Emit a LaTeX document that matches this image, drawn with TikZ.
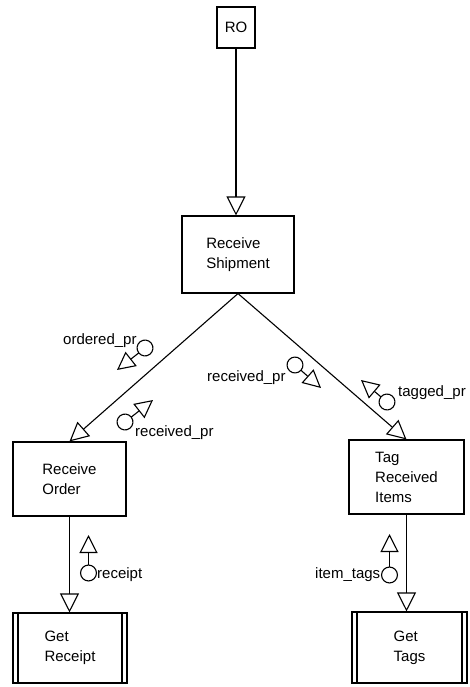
\documentclass[tikz,border=0pt]{standalone}
\usepackage{fontspec}
\setmainfont{Liberation Sans}
\usetikzlibrary{arrows.meta,calc}
\begin{document}
\begin{tikzpicture}[x=1pt,y=-1pt,
  every node/.style={font=\fontsize{15}{20}\selectfont},
  procbox/.style={draw, line width=1.1pt, align=left, inner sep=0pt},
  dbox/.style={procbox, path picture={
      \draw[line width=1.1pt] ([xshift=5pt]path picture bounding box.north west) -- ([xshift=5pt]path picture bounding box.south west);
      \draw[line width=1.1pt] ([xshift=-5pt]path picture bounding box.north east) -- ([xshift=-5pt]path picture bounding box.south east);}},
  flow/.style={line width=1.1pt, -{Triangle[open,length=19pt,width=19pt]}},
  couple/.style={line width=1.1pt, {Circle[open,length=17pt]}-{Triangle[open,length=18pt,width=18pt]}},
  lbl/.style={inner sep=0pt}]
\useasboundingbox (0,0) rectangle (470,687);

% boxes
\node[procbox, minimum width=38pt, minimum height=41pt] (ro) at (236,27.5) {RO};
\node[procbox, minimum width=112pt, minimum height=77pt] (ship) at (238,254.5) {Receive\\Shipment};
\node[procbox, minimum width=113pt, minimum height=74pt] (order) at (69.5,479) {Receive\\Order};
\node[procbox, minimum width=115pt, minimum height=74pt] (tag) at (406.5,477) {Tag\\Received\\Items};
\node[dbox, minimum width=114pt, minimum height=70pt] (getr) at (70,648) {Get\\Receipt};
\node[dbox, minimum width=115pt, minimum height=71pt] (gett) at (409.5,647.5) {Get\\Tags};

% main connectors
\draw[flow] (ro.south) -- (ro.south |- ship.north);
\draw[flow] (ship.south) -- (order.north);
\draw[flow] (ship.south) -- (tag.north);
\draw[flow] (order.south) -- (order.south |- getr.north);
\draw[flow] (tag.south) -- (tag.south |- gett.north);

% couples
\coordinate (c1) at (145,348); \coordinate (t1) at (117,370);
\coordinate (c2) at (125,422); \coordinate (t2) at (153,400);
\coordinate (c3) at (295,365); \coordinate (t3) at (321,388);
\coordinate (c4) at (387,402); \coordinate (t4) at (361,380);
\coordinate (c5) at (88.5,573); \coordinate (t5) at (88.5,535);
\coordinate (c6) at (389.5,575); \coordinate (t6) at (389.5,534);
\foreach \i in {1,...,6}{
  \coordinate (s\i) at ($(c\i)!-8.5pt!(t\i)$);
  \draw[couple] (s\i) -- (t\i);
}

% labels
\node[lbl, anchor=base west] (l1) at (63,344) {ordered\_pr};
\node[lbl, anchor=base west] (l2) at (135,436) {received\_pr};
\node[lbl, anchor=base west] (l3) at (207,381) {received\_pr};
\node[lbl, anchor=base west] (l4) at (398,396) {tagged\_pr};
\node[lbl, anchor=base west] (l5) at (97,578) {receipt};
\node[lbl, anchor=base west] (l6) at (315,578) {item\_tags};
\end{tikzpicture}
\end{document}
